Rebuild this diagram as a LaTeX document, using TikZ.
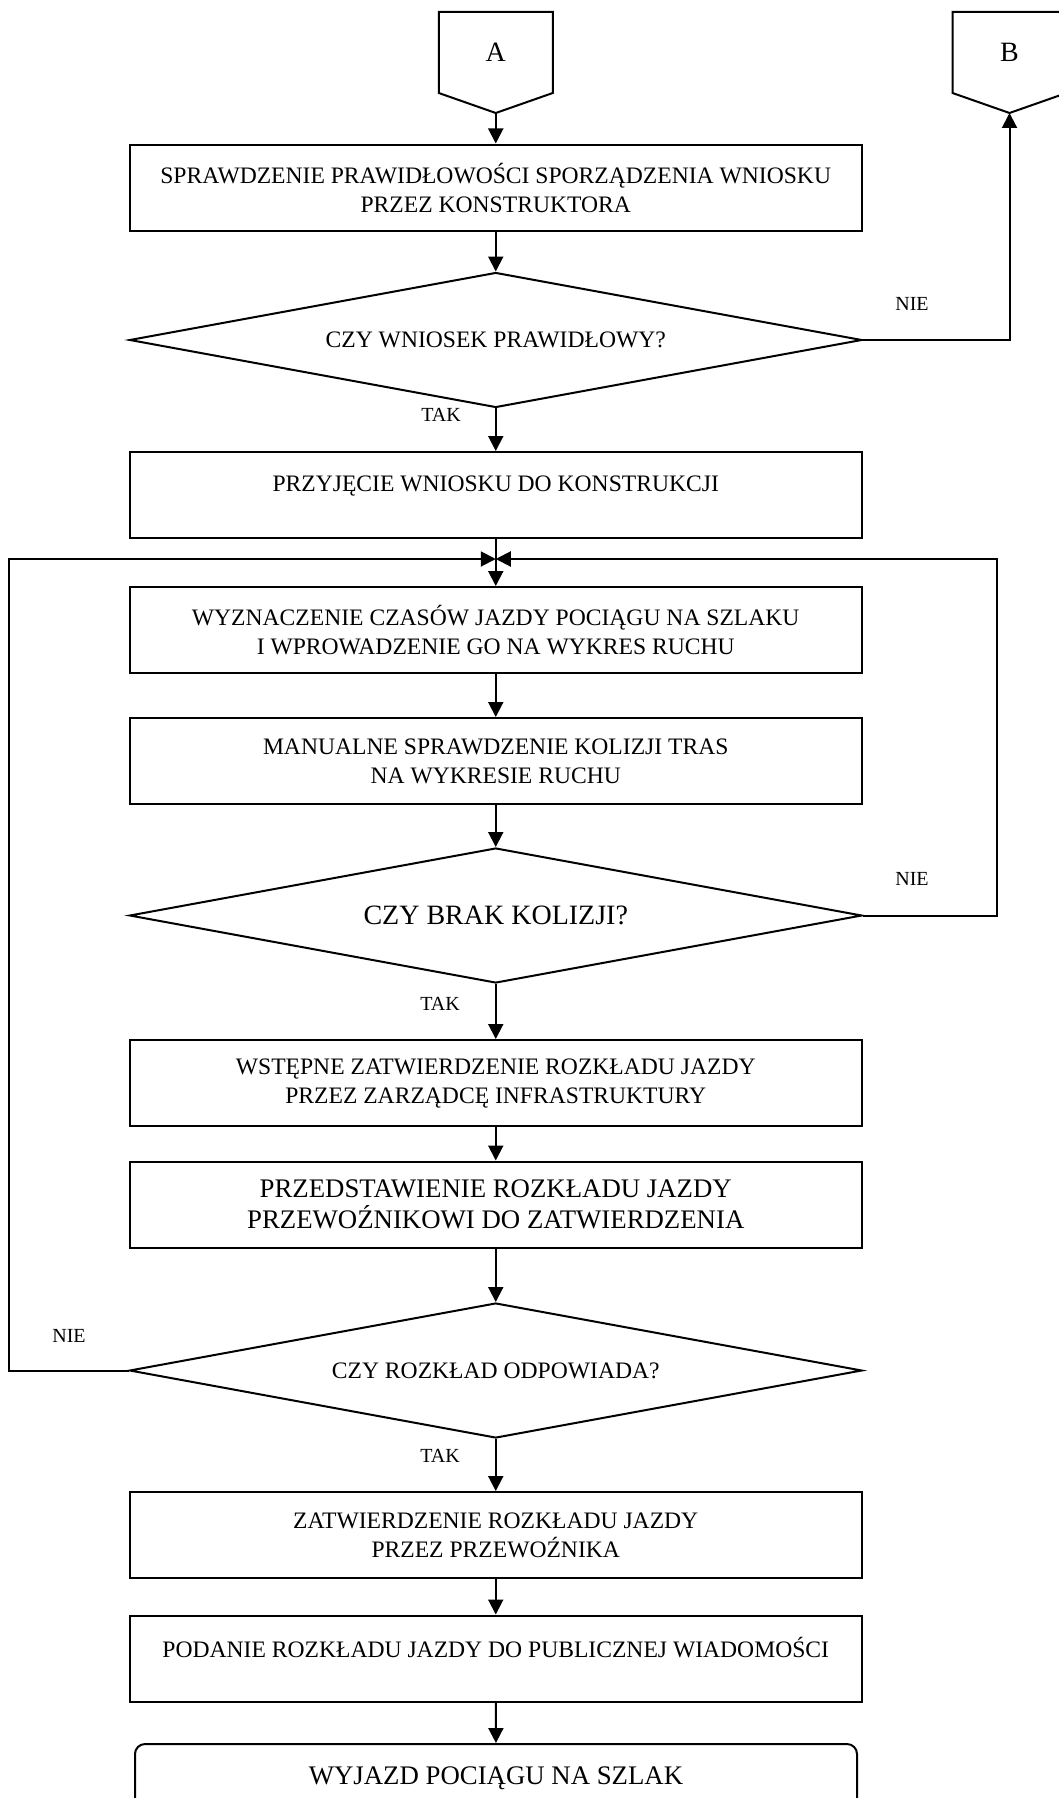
\documentclass[tikz,border=0pt]{standalone}
\usepackage{fontspec}
\setmainfont{Liberation Serif}
\usetikzlibrary{shapes.geometric,arrows.meta,calc}

\newcommand{\SmallTxt}{\fontsize{11.8}{14.5}\selectfont}
\newcommand{\BigTxt}{\fontsize{13.4}{15.5}\selectfont}

\begin{document}
\begin{tikzpicture}[x=0.5pt,y=-0.5pt,line width=1pt,
    box/.style={draw, rectangle, minimum width=366.25pt, minimum height=43pt, align=center, inner sep=2pt, font=\SmallTxt},
    decision/.style={draw, diamond, aspect=5.426, minimum width=366.25pt, minimum height=67.5pt, inner sep=0pt, font=\SmallTxt},
    offpage/.style={minimum width=56pt, minimum height=39.5pt, inner sep=0pt, font=\fontsize{14}{16}\selectfont},
    endbox/.style={draw, rounded corners=5pt, minimum width=361pt, minimum height=34pt, font=\BigTxt},
    answer/.style={font=\fontsize{10}{12}\selectfont, inner sep=0pt},
    flow/.style={-{Triangle[length=7.5pt,width=7.5pt]}}]
    \useasboundingbox (0,0) rectangle (1059,1798);

        % off-page connectors
        \node[offpage] (A) at (495.75,52.5) {A};
        \node[offpage] (B) at (1009.5,52.5) {B};
        \foreach \c in {A,B}
        \draw (\c.north west) -- (\c.north east) -- (\c.south east) -- ($(\c.south)+(0,20)$) coordinate (tip\c) -- (\c.south west) -- cycle;

        % main column
        \node[box] (check) at (495.75,187.5) {SPRAWDZENIE PRAWIDŁOWOŚCI SPORZĄDZENIA WNIOSKU\\PRZEZ KONSTRUKTORA};
        \node[decision] (valid) at (495.75,340) {CZY WNIOSEK PRAWIDŁOWY?};
        \node[box] (accept) at (495.75,495) {PRZYJĘCIE WNIOSKU DO KONSTRUKCJI\\[-8pt]\strut};
        \node[box] (times) at (495.75,630) {WYZNACZENIE CZASÓW JAZDY POCIĄGU NA SZLAKU\\I WPROWADZENIE GO NA WYKRES RUCHU};
        \node[box] (collide) at (495.75,761) {MANUALNE SPRAWDZENIE KOLIZJI TRAS\\NA WYKRESIE RUCHU};
        \node[decision, font=\fontsize{14}{16}\selectfont] (nocoll) at (495.75,915.5) {CZY BRAK KOLIZJI?};
        \node[box] (prelim) at (495.75,1083) {WSTĘPNE ZATWIERDZENIE ROZKŁADU JAZDY\\PRZEZ ZARZĄDCĘ INFRASTRUKTURY};
        \node[box, font=\BigTxt] (present) at (495.75,1204.5) {PRZEDSTAWIENIE ROZKŁADU JAZDY\\PRZEWOŹNIKOWI DO ZATWIERDZENIA};
        \node[decision] (fits) at (495.75,1370.5) {CZY ROZKŁAD ODPOWIADA?};
        \node[box] (approve) at (495.75,1535) {ZATWIERDZENIE ROZKŁADU JAZDY\\PRZEZ PRZEWOŹNIKA};
        \node[box] (publish) at (495.75,1658.5) {PODANIE ROZKŁADU JAZDY DO PUBLICZNEJ WIADOMOŚCI\\[-8pt]\strut};
        \node[endbox] (depart) at (496,1778) {WYJAZD POCIĄGU NA SZLAK};

        % answers
        \node[answer] (validno) at (912,304) {NIE};
        \node[answer] (validyes) at (441,415) {TAK};
        \node[answer] (nocollno) at (912,879) {NIE};
        \node[answer] (nocollyes) at (440,1004) {TAK};
        \node[answer] (fitsno) at (69,1336) {NIE};
        \node[answer] (fitsyes) at (440,1456) {TAK};

        % arrows
        \coordinate (join) at (495.75,559);
        \draw[flow] (tipA) -- (check);
        \draw[flow] (check) -- (valid);
        \draw[flow] (valid.east) -| (tipB);
        \draw[flow] (valid) -- (accept);
        \draw[flow] (accept) -- (times);
        \draw[flow] (nocoll.east) -- ++(134,0) |- (join);
        \draw[flow] (fits.west) -- ++(-119.5,0) |- (join);
        \foreach \a/\b in {times/collide,collide/nocoll,nocoll/prelim,prelim/present,present/fits,fits/approve,approve/publish,publish/depart}
        \draw[flow] (\a) -- (\b);
\end{tikzpicture}
\end{document}
